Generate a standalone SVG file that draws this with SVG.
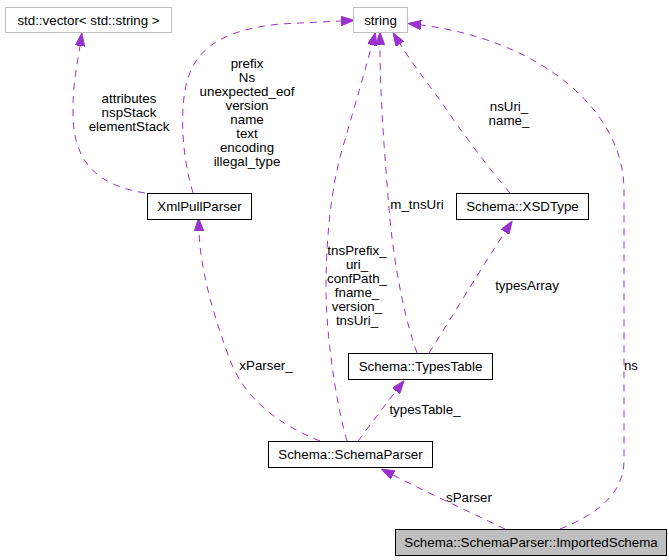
<svg xmlns="http://www.w3.org/2000/svg" width="669" height="560" viewBox="0 0 669 560">
<style>
  text { font-family: "Liberation Sans", Arial, Helvetica, sans-serif; font-size: 13.33px; fill: #000; }
  .node rect { fill: #fff; stroke: #000; stroke-width: 1; }
  .ext rect { stroke: #bfbfbf; }
  .main rect { fill: #bfbfbf; }
  .node text { text-anchor: middle; }
  .edges path { fill: none; stroke: #9a32cd; stroke-width: 1; stroke-dasharray: 7,6; marker-end: url(#arr); }
  .lbl { text-anchor: middle; }
</style>
<defs>
  <marker id="arr" viewBox="0 0 13 9.4" refX="0" refY="4.7" markerWidth="13" markerHeight="9.4" markerUnits="userSpaceOnUse" orient="auto">
    <path d="M0,0 L13,4.7 L0,9.4 z" fill="#9a32cd" stroke="#9a32cd" stroke-width="1"/>
  </marker>
</defs>
<rect width="669" height="560" fill="#fff"/>

<g class="edges" id="edges">
  <path d="M145,193 C95,185 72,160 73,110 C73,80 78,60 80,46"/>
  <path d="M193,193 C183,160 180,120 185,90 C192,50 220,30 280,24 L341,21"/>
  <path d="M347,441 C335,400 326,330 326,290 C326,220 335,170 345,140 C355,105 365,70 372,45"/>
  <path d="M417,353 C405,320 395,270 390,220 C385,160 380,100 380,45"/>
  <path d="M510,193 C490,170 460,130 440,100 C425,80 410,60 400,44"/>
  <path d="M560,529 C595,515 624,495 624,460 L624,190 C624,110 540,40 421,25"/>
  <path d="M320,441 C280,425 245,400 230,360 C215,320 200,270 199,231"/>
  <path d="M358,441 C370,425 385,405 396,391"/>
  <path d="M429,353 C450,320 480,270 505,232"/>
  <path d="M505,529 C470,512 430,494 393,475"/>
</g>

<g id="edge-labels">
  <text class="lbl" x="129" y="103">attributes</text>
  <text class="lbl" x="129" y="117">nspStack</text>
  <text class="lbl" x="129" y="131">elementStack</text>

  <text class="lbl" x="247" y="68">prefix</text>
  <text class="lbl" x="247" y="82">Ns</text>
  <text class="lbl" x="247" y="96">unexpected_eof</text>
  <text class="lbl" x="247" y="110">version</text>
  <text class="lbl" x="247" y="124">name</text>
  <text class="lbl" x="247" y="138">text</text>
  <text class="lbl" x="247" y="152">encoding</text>
  <text class="lbl" x="247" y="166">illegal_type</text>

  <text class="lbl" x="357" y="255">tnsPrefix_</text>
  <text class="lbl" x="357" y="269">uri_</text>
  <text class="lbl" x="357" y="283">confPath_</text>
  <text class="lbl" x="357" y="297">fname_</text>
  <text class="lbl" x="357" y="311">version_</text>
  <text class="lbl" x="357" y="325">tnsUri_</text>

  <text class="lbl" x="417" y="209">m_tnsUri</text>
  <text class="lbl" x="509" y="111">nsUri_</text>
  <text class="lbl" x="509" y="125">name_</text>
  <text class="lbl" x="631" y="370">ns</text>
  <text class="lbl" x="527" y="290">typesArray</text>
  <text class="lbl" x="266" y="370">xParser_</text>
  <text class="lbl" x="425" y="414">typesTable_</text>
  <text class="lbl" x="469" y="502">sParser</text>
</g>

<g class="node ext" id="node-vector">
  <rect x="5.5" y="7.5" width="166" height="25"/>
  <text x="88.5" y="24.5">std::vector&lt; std::string &gt;</text>
</g>
<g class="node ext" id="node-string">
  <rect x="353.5" y="7.5" width="54" height="25"/>
  <text x="380.5" y="24.5">string</text>
</g>
<g class="node" id="node-xmlpullparser">
  <rect x="147.5" y="193.5" width="104" height="26"/>
  <text x="199.5" y="211">XmlPullParser</text>
</g>
<g class="node" id="node-xsdtype">
  <rect x="456.5" y="193.5" width="132" height="26"/>
  <text x="522.5" y="211">Schema::XSDType</text>
</g>
<g class="node" id="node-typestable">
  <rect x="348.5" y="353.5" width="144" height="26"/>
  <text x="420.5" y="371">Schema::TypesTable</text>
</g>
<g class="node" id="node-schemaparser">
  <rect x="268.5" y="441.5" width="164" height="26"/>
  <text x="350.5" y="459">Schema::SchemaParser</text>
</g>
<g class="node main" id="node-importedschema">
  <rect x="395.5" y="529.5" width="271" height="26"/>
  <text x="531" y="547">Schema::SchemaParser::ImportedSchema</text>
</g>
</svg>
